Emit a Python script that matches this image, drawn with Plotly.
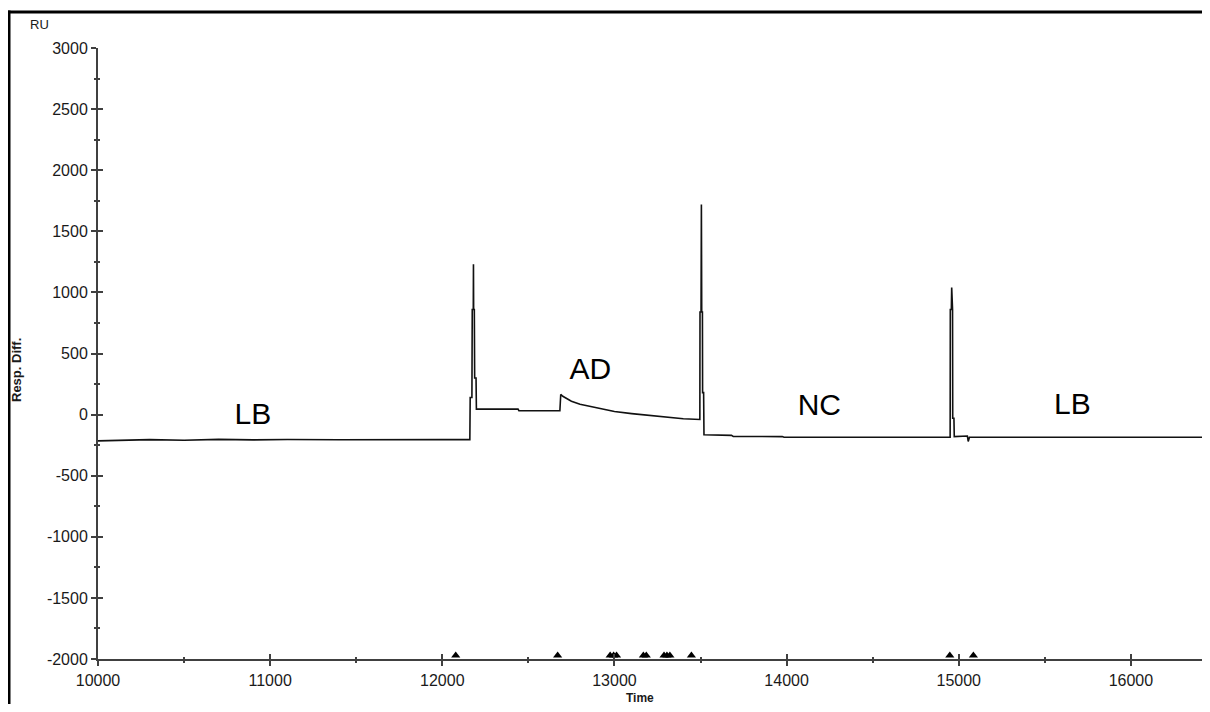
import plotly.graph_objects as go

# Sensorgram trace (time in s, response in RU)
time = [10000, 10150, 10300, 10500, 10700, 10900, 11100, 11400, 11700, 12000, 12160,
        12162, 12172, 12174, 12180, 12181, 12182, 12186, 12188, 12196, 12198,
        12440, 12445, 12683, 12688, 12700, 12750, 12800, 12900, 13000, 13100,
        13200, 13300, 13400, 13496,
        13497, 13503, 13505, 13507, 13511, 13512, 13518, 13520,
        13680, 13690, 13975, 13985, 14400, 14950,
        14951, 14957, 14959, 14961, 14964, 14965, 14972, 14974,
        15040, 15050, 15055, 15062, 15500, 16000, 16460]
resp = [-215, -208, -205, -210, -203, -207, -204, -206, -203, -205, -205,
        140, 140, 860, 860, 1230, 860, 860, 300, 300, 45,
        45, 32, 32, 165, 150, 110, 85, 55, 25, 8,
        -8, -22, -34, -40,
        840, 840, 1720, 840, 840, 180, 180, -165,
        -170, -178, -180, -185, -185, -185,
        860, 860, 1040, 860, 860, -30, -30, -180,
        -180, -175, -220, -185, -185, -185, -185]

# injection markers along the time axis
marker_times = [12078, 12670, 12975, 12995, 13012, 13168, 13185,
                13288, 13305, 13322, 13447, 14948, 15085]
marker_level = [-1972] * len(marker_times)

# region labels
label_text = ["LB", "AD", "NC", "LB"]
label_x = [10900, 12860, 14190, 15660]
label_y = [-15, 355, 55, 70]

x_tick_vals = [10000, 11000, 12000, 13000, 14000, 15000, 16000]
x_tick_text = ["10000", "11000", "12000", "13000", "14000", "15000", "16000"]
y_tick_vals = [-2000, -1500, -1000, -500, 0, 500, 1000, 1500, 2000, 2500, 3000]
y_tick_text = ["-2000", "-1500", "-1000", "-500", "0", "500", "1000", "1500", "2000", "2500", "3000"]

# page has an 8px body margin: figure drawn at (8, 8)
W, H = 1194, 696
ML, MT, MB, MR = 90, 40, 45, 0
PW, PH = W - ML - MR, H - MT - MB  # 1104 x 611
X_RANGE = [10000, 10000 + PW / 0.17215]
Y_RANGE = [-2000, 3000]
AX = "#404040"
TXT = "#1a1a1a"


def px(x_page):
    return (x_page - 8 - ML) / PW


def py(y_page):
    return (H - MB - (y_page - 8)) / PH


fig = go.Figure()
fig.add_trace(go.Scatter(x=time, y=resp, mode="lines",
                         line=dict(color="#111111", width=1.6), hoverinfo="skip"))
fig.add_trace(go.Scatter(x=marker_times, y=marker_level, mode="markers",
                         marker=dict(symbol="triangle-up", size=8, color="#000000"),
                         xaxis="x2", yaxis="y2", hoverinfo="skip"))
fig.add_trace(go.Scatter(x=label_x, y=label_y, mode="text", text=label_text,
                         textfont=dict(family="Liberation Sans, Arial", size=30, color="#000000"),
                         hoverinfo="skip"))

tickfont = dict(family="Liberation Sans, Arial", size=16, color=TXT)
fig.update_layout(
    width=W, height=H,
    margin=dict(l=ML, r=MR, t=MT, b=MB),
    paper_bgcolor="white", plot_bgcolor="white",
    showlegend=False,
    xaxis=dict(range=X_RANGE, showgrid=False, zeroline=False,
               showline=True, linecolor=AX, linewidth=2,
               tickvals=x_tick_vals, ticktext=x_tick_text, tickfont=tickfont,
               ticks="outside", ticklen=5, tickwidth=1.5, tickcolor=AX,
               ticklabelstandoff=1,
               minor=dict(dtick=500, tick0=10000, ticks="outside", ticklen=2,
                          tickwidth=1.5, tickcolor=AX, showgrid=False)),
    yaxis=dict(range=Y_RANGE, showgrid=False, zeroline=False,
               showline=True, linecolor=AX, linewidth=2,
               tickvals=y_tick_vals, ticktext=y_tick_text, tickfont=tickfont,
               ticks="outside", ticklen=5, tickwidth=1.5, tickcolor=AX,
               minor=dict(dtick=250, tick0=0, ticks="outside", ticklen=2,
                          tickwidth=1.5, tickcolor=AX, showgrid=False)),
    xaxis2=dict(range=X_RANGE, overlaying="x", anchor="y", side="bottom",
                showgrid=False, zeroline=False, showline=False, showticklabels=False,
                tickvals=x_tick_vals, ticks="inside", ticklen=5, tickwidth=1.5, tickcolor=AX,
                minor=dict(dtick=500, tick0=10000, ticks="inside", ticklen=2,
                           tickwidth=1.5, tickcolor=AX, showgrid=False)),
    yaxis2=dict(range=Y_RANGE, overlaying="y", anchor="x", side="left",
                showgrid=False, zeroline=False, showline=False, showticklabels=False,
                tickvals=y_tick_vals, ticks="inside", ticklen=5, tickwidth=1.5, tickcolor=AX,
                minor=dict(dtick=250, tick0=0, ticks="inside", ticklen=2,
                           tickwidth=1.5, tickcolor=AX, showgrid=False)),
    shapes=[
        dict(type="line", xref="paper", yref="paper", x0=px(7), x1=px(1210),
             y0=py(12), y1=py(12), line=dict(color="black", width=3)),
        dict(type="line", xref="paper", yref="paper", x0=px(9), x1=px(9),
             y0=py(10.5), y1=py(712), line=dict(color="black", width=3)),
    ],
    annotations=[
        dict(text="RU", xref="paper", yref="paper", x=px(28), y=py(24),
             xanchor="left", yanchor="middle", showarrow=False,
             font=dict(family="Liberation Sans, Arial", size=13, color=TXT)),
        dict(text="<b>Resp. Diff.</b>", xref="paper", yref="paper",
             x=px(16), y=py(370), textangle=-90,
             xanchor="center", yanchor="middle", showarrow=False,
             font=dict(family="Liberation Sans, Arial", size=13, color=TXT)),
        dict(text="<b>Time</b>", xref="paper", yref="paper",
             x=px(640), y=py(690), xanchor="center", yanchor="top",
             showarrow=False, borderpad=0,
             font=dict(family="Liberation Sans, Arial", size=12, color=TXT)),
    ],
)

fig.write_html("out.html")
